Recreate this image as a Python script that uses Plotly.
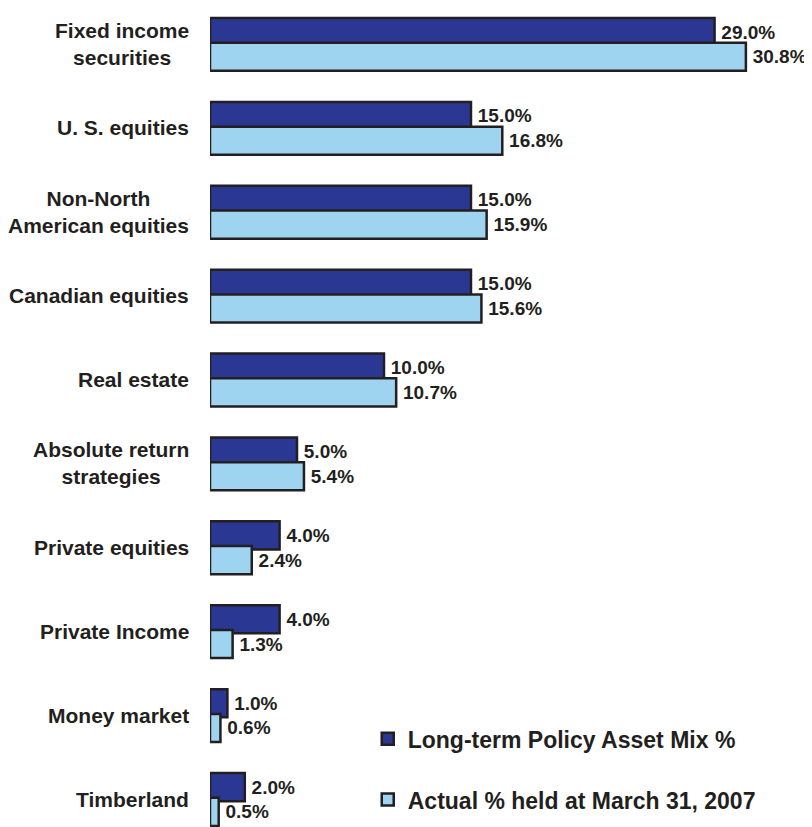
import plotly.graph_objects as go

# asset mix data (percent)
categories = [
    "Fixed income<br>securities",
    "U. S. equities",
    "Non-North<br>American equities",
    "Canadian equities",
    "Real estate",
    "Absolute return<br>strategies",
    "Private equities",
    "Private Income",
    "Money market",
    "Timberland",
]
policy_mix = [29.0, 15.0, 15.0, 15.0, 10.0, 5.0, 4.0, 4.0, 1.0, 2.0]
actual_held = [30.8, 16.8, 15.9, 15.6, 10.7, 5.4, 2.4, 1.3, 0.6, 0.5]

series_names = ["Long-term Policy Asset Mix %", "Actual % held at March 31, 2007"]

DARK = "#2b3893"
LIGHT = "#9fd4f0"
INK = "#231f20"
FONT = "Liberation Sans, Arial, sans-serif"

fig = go.Figure()

fig.add_trace(go.Bar(
    name=series_names[0],
    y=categories,
    x=policy_mix,
    orientation="h",
    width=0.335,
    offset=-0.31,
    marker=dict(color=DARK, line=dict(color=INK, width=2.5)),
    texttemplate="\u2009%{x:.1f}%",
    textposition="outside",
    constraintext="none",
    cliponaxis=False,
    textfont=dict(family=FONT, size=19, color=INK, weight="bold"),
    legendgroup="a",
))

fig.add_trace(go.Bar(
    name=series_names[1],
    y=categories,
    x=actual_held,
    orientation="h",
    width=0.335,
    offset=-0.015,
    marker=dict(color=LIGHT, line=dict(color=INK, width=2.5)),
    texttemplate="\u2009%{x:.1f}%",
    textposition="outside",
    constraintext="none",
    cliponaxis=False,
    textfont=dict(family=FONT, size=19, color=INK, weight="bold"),
    legendgroup="b",
))

# category labels, centered lines, right edge next to the bars
for cat in categories:
    fig.add_annotation(
        x=0, xref="paper", y=cat, yref="y",
        text=cat, showarrow=False,
        xanchor="right", yanchor="middle", align="center",
        xshift=-19,
        font=dict(family=FONT, size=21, color=INK, weight="bold"),
    )

fig.update_layout(
    width=804,
    height=819,
    margin=dict(l=202, r=0, t=0, b=0),
    barmode="overlay",
    plot_bgcolor="white",
    paper_bgcolor="white",
    showlegend=True,
    legend=dict(
        x=0.262, y=0.134, xanchor="left", yanchor="top",
        font=dict(family=FONT, size=23, color=INK, weight="bold"),
        tracegroupgap=28,
        bgcolor="rgba(0,0,0,0)",
    ),
    xaxis=dict(range=[0, 34.6], visible=False, fixedrange=True),
    yaxis=dict(
        type="category",
        range=[9.333, -0.429],
        showticklabels=False,
        showgrid=False,
        zeroline=False,
        showline=False,
        ticks="",
    ),
)

fig.write_html("out.html")
